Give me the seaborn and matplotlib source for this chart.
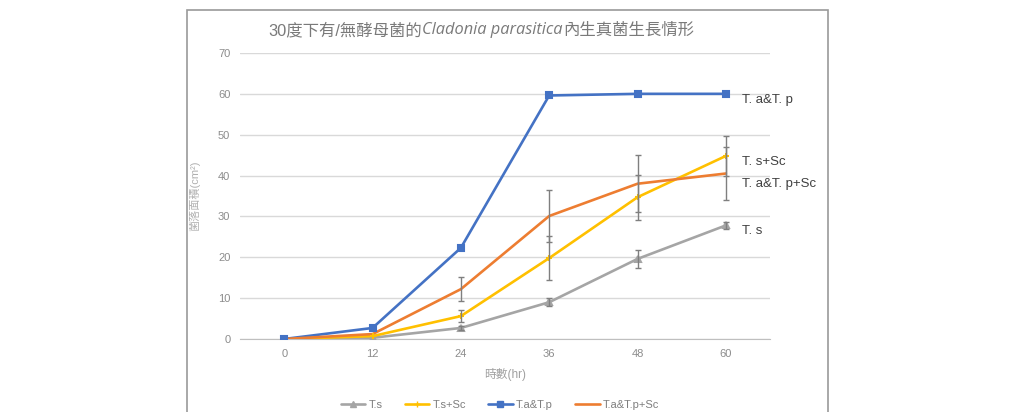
import numpy as np
import pandas as pd
import matplotlib
matplotlib.use("Agg")
import matplotlib.pyplot as plt
import seaborn as sns
from matplotlib.patches import Rectangle

# data
hours = [0, 12, 24, 36, 48, 60]
series_names = ["T.s", "T.s+Sc", "T.a&T.p", "T.a&T.p+Sc"]
ts = [0, 0.3, 2.7, 9.0, 19.6, 27.8]
ts_sc = [0, 0.7, 5.6, 19.8, 34.7, 44.8]
ta_tp = [0, 2.7, 22.3, 59.6, 60.0, 60.0]
ta_tp_sc = [0, 1.2, 12.2, 30.1, 38.0, 40.5]
ts_err = [0, 0.3, 0.5, 1.0, 2.3, 0.8]
ts_sc_err = [0, 0.3, 1.5, 5.3, 5.5, 5.0]
ta_tp_err = [0, 0, 0, 0, 0, 0]
ta_tp_sc_err = [0, 0.3, 3.0, 6.4, 7.0, 6.6]
end_labels = ["T. s", "T. s+Sc", "T. a&T. p", "T. a&T. p+Sc"]
label_y = [26.4, 43.2, 58.5, 38.0]

colors = ["#A5A5A5", "#FFC000", "#4472C4", "#ED7D31"]
markers = ["^", "+", "s", ""]

df = pd.DataFrame({
    "hr": hours * 4,
    "area": ts + ts_sc + ta_tp + ta_tp_sc,
    "err": ts_err + ts_sc_err + ta_tp_err + ta_tp_sc_err,
    "group": [n for n in series_names for _ in hours],
})

sns.set_style("white")
plt.rcParams["font.family"] = ["Liberation Sans", "Noto Sans CJK TC", "DejaVu Sans"]

fig = plt.figure(figsize=(10.18, 4.12), dpi=100)
ax = fig.add_axes([0.2358, 0.1772, 0.5206, 0.6942])

# outer chart frame
fig.patches.append(Rectangle((187 / 1018, -0.05), 641 / 1018, 1.026,
                             transform=fig.transFigure, fill=False,
                             edgecolor="#9a9a9a", linewidth=1.2))

sns.lineplot(data=df, x="hr", y="area", hue="group", hue_order=series_names,
             palette=colors, linewidth=1.9, ax=ax, legend=False, zorder=3)

# markers + error bars per series
for i, name in enumerate(series_names):
    sub = df[df["group"] == name]
    if markers[i]:
        ax.plot(sub["hr"], sub["area"], linestyle="none", marker=markers[i],
                color=colors[i], markersize=5, markeredgewidth=1.5, zorder=4)
    mask = sub["err"] > 0.4
    ax.errorbar(sub["hr"][mask], sub["area"][mask], yerr=sub["err"][mask],
                fmt="none", ecolor="#7f7f7f", elinewidth=1.0, capsize=2.5,
                capthick=1.0, zorder=5)

ax.set_xlim(-6, 66)
ax.set_ylim(0, 70)
ax.set_xticks(hours)
ax.set_yticks(range(0, 71, 10))
ax.grid(axis="y", color="#d9d9d9", linewidth=1)
ax.grid(axis="x", visible=False)
for s in ["top", "right", "left"]:
    ax.spines[s].set_visible(False)
ax.spines["bottom"].set_color("#bfbfbf")
ax.tick_params(axis="both", length=0, labelsize=8, labelcolor="#8c8c8c", pad=7)
ax.set_xlabel("時數(hr)", fontsize=8.5, color="#a0a0a0", labelpad=7)
ax.set_ylabel("菌落面積(cm²)", fontsize=8, color="#b0b0b0", labelpad=2)
ax.yaxis.set_label_coords(-0.075, 0.5)

# end-of-line labels
for lab, yv in zip(end_labels, label_y):
    ax.text(62.2, yv, lab, fontsize=9.5, color="#404040", va="center", ha="left")

# title: mixed upright CJK and italic species name
title_kw = dict(fontsize=11.8, color="#7a7a7a")
t1 = fig.text(268 / 1018, 1 - 35 / 412, "30度下有/無酵母菌的", va="baseline", **title_kw)
t2 = ax.annotate("Cladonia parasitica", xy=(1, 0), xycoords=t1, va="bottom",
                 style="italic", family=["Open Sans", "DejaVu Sans"], **title_kw)
ax.annotate("內生真菌生長情形", xy=(1, 0), xycoords=t2, xytext=(0.5, 0),
            textcoords="offset points", va="bottom", **title_kw)

# legend at the bottom
handles = [plt.Line2D([], [], color=c, marker=m if m else None, markersize=4,
                      linewidth=1.9) for c, m in zip(colors, markers)]
fig.legend(handles, series_names, loc="center", bbox_to_anchor=(500 / 1018, 1 - 405 / 412),
           ncol=4, frameon=False, fontsize=8, labelcolor="#7f7f7f",
           handlelength=2.2, columnspacing=2.0, handletextpad=0.3)

fig.savefig("out.png", dpi=100)
